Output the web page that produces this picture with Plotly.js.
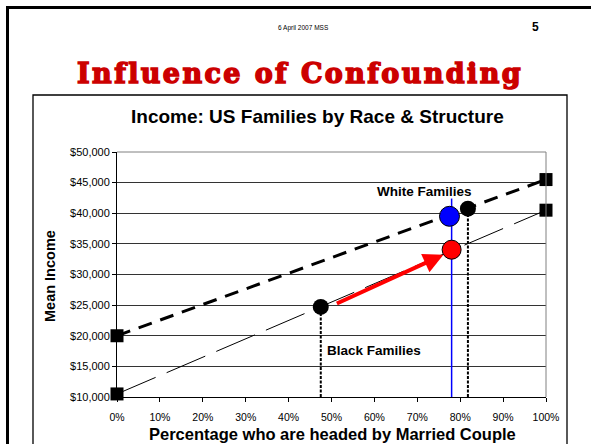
<!DOCTYPE html>
<html>
<head>
<meta charset="utf-8">
<script src="https://cdn.plot.ly/plotly-3.0.1.min.js"></script>
<style>
html,body{margin:0;padding:0;background:#fff;}
#chart{width:591px;height:444px;}
#chart .annotation[data-index="2"] .annotation-text{letter-spacing:2.4px;stroke:#CC0000;stroke-width:1.5px;}
</style>
</head>
<body>
<div id="chart"></div>
<script>
// ---- data ----
const lineX = [0, 1];
const marriedTrendY = [20000, 45500];   // thick dashed line
const overallTrendY = [10500, 40500];   // thin dashed line
const familyX = [0.475, 0.818];         // Black families, White families
const familyY = [24700, 40750];
const blueX = [0.775];
const blueY = [39500];
const redX = [0.78];
const redY = [34050];
const blueLineX = [0.78, 0.78];
const blueLineY = [10000, 42400];
const blackDropX = [0.475, 0.475];
const blackDropY = [10000, 24700];
const whiteDropX = [0.818, 0.818];
const whiteDropY = [10000, 40750];
const arrowFrom = [0.509, 25150];
const arrowTo = [0.761, 33230];
const yTicks = [10000, 15000, 20000, 25000, 30000, 35000, 40000, 45000, 50000];
const xTicks = [0, 0.1, 0.2, 0.3, 0.4, 0.5, 0.6, 0.7, 0.8, 0.9, 1];

// ---- layout helpers (pixel -> paper) ----
const W = 591, H = 444, ML = 117, MR = 45, MT = 152, MB = 47;
const PW = W - ML - MR, PH = H - MT - MB;
const px = v => (v - ML) / PW;
const py = v => 1 - (v - MT) / PH;
const FONT = 'Liberation Sans, Arial, sans-serif';

const traces = [
  {x: lineX, y: overallTrendY, mode: 'lines+markers', cliponaxis: false,
   line: {color: '#000', width: 1, dash: '42px,12px'},
   marker: {symbol: 'square', size: 13, color: '#000'}},
  {x: lineX, y: marriedTrendY, mode: 'lines+markers', cliponaxis: false,
   line: {color: '#000', width: 3, dash: '14px,9px'},
   marker: {symbol: 'square', size: 13, color: '#000'}},
  {x: blackDropX, y: blackDropY, mode: 'lines', line: {color: '#000', width: 2, dash: '3px,1.5px'}},
  {x: whiteDropX, y: whiteDropY, mode: 'lines', line: {color: '#000', width: 2, dash: '3px,1.5px'}},
  {x: blueLineX, y: blueLineY, mode: 'lines', line: {color: '#0000FF', width: 1.5}},
  {x: familyX, y: familyY, mode: 'markers', cliponaxis: false,
   marker: {symbol: 'circle', size: 16, color: '#000'}},
  {x: blueX, y: blueY, mode: 'markers', cliponaxis: false,
   marker: {symbol: 'circle', size: 20, color: '#0000FF', line: {color: '#000', width: 1}}},
  {x: redX, y: redY, mode: 'markers', cliponaxis: false,
   marker: {symbol: 'circle', size: 19, color: '#FF0000', line: {color: '#000', width: 1}}}
];

const layout = {
  width: W, height: H,
  margin: {l: ML, r: MR, t: MT, b: MB, pad: 0},
  paper_bgcolor: '#fff', plot_bgcolor: '#fff',
  showlegend: false,
  font: {family: FONT, color: '#000'},
  xaxis: {
    range: [0, 1], tickvals: xTicks, tickformat: '.0%',
    showgrid: false, zeroline: false, showline: true, linecolor: '#000', linewidth: 1,
    ticks: 'outside', ticklen: 4, tickcolor: '#000', ticklabelstandoff: 6,
    tickfont: {family: FONT, size: 10.5, color: '#000'}, fixedrange: true
  },
  yaxis: {
    range: [10000, 50000], tickvals: yTicks, tickformat: '$,.0f',
    showgrid: true, gridcolor: '#333', gridwidth: 1, zeroline: false,
    showline: true, linecolor: '#000', linewidth: 1,
    ticks: 'outside', ticklen: 4, tickcolor: '#000',
    tickfont: {family: FONT, size: 11, color: '#000'}, fixedrange: true
  },
  shapes: [
    {type: 'line', xref: 'paper', yref: 'paper', x0: 0, x1: 1, y0: 1, y1: 1, line: {color: '#808080', width: 1}},
    {type: 'line', xref: 'paper', yref: 'paper', x0: 1, x1: 1, y0: 0, y1: 1, line: {color: '#808080', width: 1}},
    {type: 'rect', xref: 'paper', yref: 'paper', x0: px(33), x1: px(567), y0: py(95), y1: py(700), line: {color: '#000', width: 1.3}},
    {type: 'rect', xref: 'paper', yref: 'paper', x0: px(7.5), x1: px(800), y0: py(7.5), y1: py(800), line: {color: '#000', width: 3}}
  ],
  annotations: [
    {xref: 'paper', yref: 'paper', x: px(303), y: py(28), text: '6 April 2007 MSS', showarrow: false,
     font: {family: FONT, size: 6.5, color: '#000'}, xanchor: 'center', yanchor: 'middle'},
    {xref: 'paper', yref: 'paper', x: px(535), y: py(27), text: '<b>5</b>', showarrow: false,
     font: {family: FONT, size: 12, color: '#000'}, xanchor: 'center', yanchor: 'middle'},
    {xref: 'paper', yref: 'paper', x: px(300), y: py(73), text: '<b>Influence of Confounding</b>', showarrow: false,
     font: {family: 'DejaVu Serif, serif', size: 27, color: '#CC0000'}, xanchor: 'center', yanchor: 'middle'},
    {xref: 'paper', yref: 'paper', x: px(317), y: py(116), text: '<b>Income: US Families by Race &amp; Structure</b>', showarrow: false,
     font: {family: FONT, size: 19, color: '#000'}, xanchor: 'center', yanchor: 'middle'},
    {xref: 'paper', yref: 'paper', x: px(50), y: py(276), text: '<b>Mean Income</b>', showarrow: false, textangle: -90,
     font: {family: FONT, size: 14.5, color: '#000'}, xanchor: 'center', yanchor: 'middle'},
    {xref: 'paper', yref: 'paper', x: px(332), y: py(434), text: '<b>Percentage who are headed by Married Couple</b>', showarrow: false,
     font: {family: FONT, size: 16.5, color: '#000'}, xanchor: 'center', yanchor: 'middle', borderpad: 0},
    {xref: 'paper', yref: 'paper', x: px(424), y: py(191), text: '<b>White Families</b>', showarrow: false,
     font: {family: FONT, size: 13.5, color: '#000'}, xanchor: 'center', yanchor: 'middle'},
    {xref: 'paper', yref: 'paper', x: px(325), y: py(350), text: '<b>Black Families</b>', showarrow: false,
     font: {family: FONT, size: 13.5, color: '#000'}, xanchor: 'left', yanchor: 'middle'},
    {xref: 'x', yref: 'y', axref: 'x', ayref: 'y', x: arrowTo[0], y: arrowTo[1], ax: arrowFrom[0], ay: arrowFrom[1],
     text: '', showarrow: true, arrowhead: 2, arrowsize: 1, arrowwidth: 4, arrowcolor: '#FF0000', standoff: 0, startstandoff: 0}
  ]
};

Plotly.newPlot('chart', traces, layout, {displayModeBar: false, staticPlot: true});
</script>
</body>
</html>
